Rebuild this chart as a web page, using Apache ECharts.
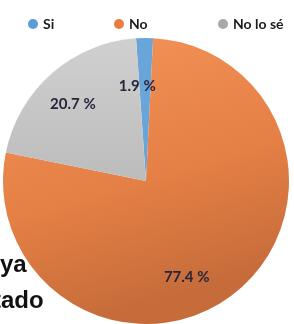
<!DOCTYPE html>
<html>
<head>
<meta charset="utf-8">
<style>
  html, body { margin: 0; padding: 0; background: #fff; }
  #chart { width: 294px; height: 324px; }
</style>
<script src="https://cdn.jsdelivr.net/npm/echarts@6/dist/echarts.min.js"></script>
</head>
<body>
<div id="chart"></div>
<script>
// 数据
var categories = ['Si', 'No', 'No lo sé']
var values = [1.9, 77.4, 20.7]
var labelTexts = ['1.9 %', '77.4 %', '20.7 %']
var colors = ['#6aa5da', '#ec8549', '#c6c6c6']
var legendColors = ['#5d9cd5', '#ea7b3c', '#a8a8a8']

var chart = echarts.init(document.getElementById('chart'))

// 标签微调 (dx, dy)
var labelShift = [[-8, -20], [-5, 37], [-24, -21]]
// 图例位置
var legendLeft = [23, 109, 213]

var legendStyle = {
  fontFamily: 'Lato',
  fontWeight: 'bold',
  fontSize: 14,
  color: '#1c1c1c'
}

var option = {
  animation: false,
  legend: categories.map(function (c, i) {
    return {
      data: [{ name: c, itemStyle: { color: legendColors[i] } }],
      top: 12,
      left: legendLeft[i],
      icon: 'circle',
      itemWidth: 10,
      itemHeight: 10,
      textStyle: legendStyle
    }
  }),
  graphic: [
    { type: 'text', left: 0, top: 253, z: 100, style: { text: 'ya', font: 'bold 24px "Liberation Sans Narrow", sans-serif', fill: '#111' } },
    { type: 'text', left: -7, top: 289, z: 100, style: { text: 'tado', font: 'bold 24px "Liberation Sans Narrow", sans-serif', fill: '#111' } }
  ],
  series: [
    {
      type: 'pie',
      center: [146, 181],
      radius: [0, 143],
      startAngle: 94,
      clockwise: true,
      label: {
        position: 'inside',
        fontFamily: 'Lato',
        fontWeight: 'bold',
        fontSize: 15,
        color: '#25253c',
        formatter: function (p) { return labelTexts[p.dataIndex] }
      },
      labelLayout: function (p) {
        return { dx: labelShift[p.dataIndex][0], dy: labelShift[p.dataIndex][1] }
      },
      emphasis: { disabled: true },
      data: [
        { name: categories[0], value: values[0], itemStyle: { color: colors[0] } },
        {
          name: categories[1],
          value: values[1],
          itemStyle: {
            color: {
              type: 'linear', x: 0, y: 0, x2: 0.3, y2: 1,
              colorStops: [
                { offset: 0, color: '#f59459' },
                { offset: 0.6, color: '#e47f45' },
                { offset: 1, color: '#c56c3a' }
              ]
            }
          }
        },
        {
          name: categories[2],
          value: values[2],
          itemStyle: {
            color: {
              type: 'linear', x: 0, y: 0, x2: 0, y2: 1,
              colorStops: [
                { offset: 0, color: '#d0d0d0' },
                { offset: 1, color: '#bcbcbc' }
              ]
            }
          }
        }
      ]
    }
  ]
}

chart.setOption(option)
</script>
</body>
</html>
